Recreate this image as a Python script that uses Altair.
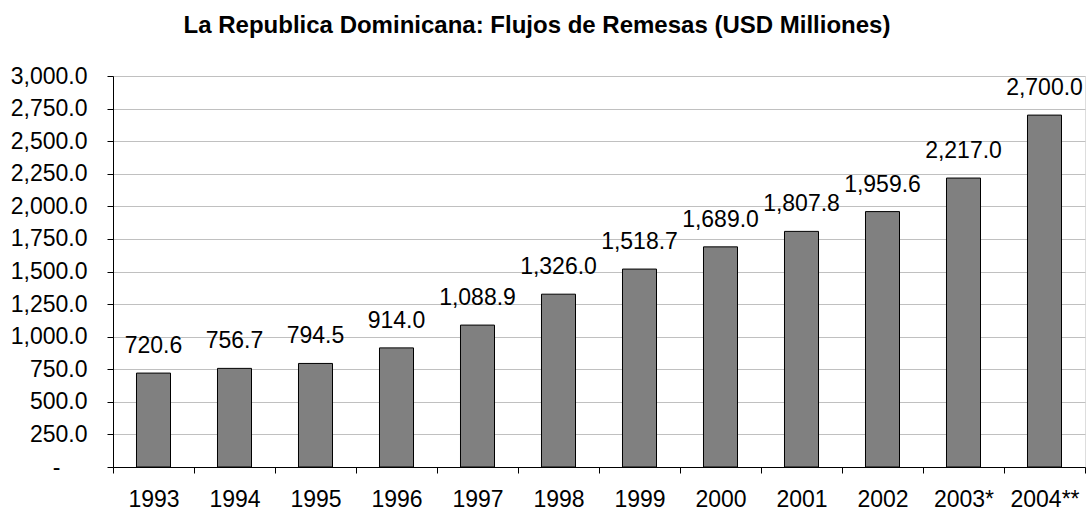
import altair as alt
import pandas as pd

# Remittance inflows to the Dominican Republic, USD millions
years = ["1993", "1994", "1995", "1996", "1997", "1998", "1999",
         "2000", "2001", "2002", "2003*", "2004**"]
remesas = [720.6, 756.7, 794.5, 914.0, 1088.9, 1326.0, 1518.7,
           1689.0, 1807.8, 1959.6, 2217.0, 2700.0]
y_ticks = [0, 250, 500, 750, 1000, 1250, 1500, 1750, 2000, 2250, 2500, 2750, 3000]

df = pd.DataFrame({"year": years, "value": remesas})

FONT = "Liberation Sans"

x_enc = alt.X(
    "year:N",
    sort=years,
    scale=alt.Scale(paddingInner=0, paddingOuter=0),
    axis=alt.Axis(
        title=None,
        labelAngle=0,
        tickBand="extent",
        grid=False,
        domainColor="black",
        tickColor="black",
        tickSize=6,
        labelPadding=15,
        labelFont=FONT,
        labelFontSize=23,
        labelColor="black",
    ),
)

y_enc = alt.Y(
    "value:Q",
    scale=alt.Scale(domain=[0, 3000], nice=False),
    axis=alt.Axis(
        title=None,
        values=y_ticks,
        labelOverlap=False,
        labelExpr="datum.value == 0 ? '-' : format(datum.value, ',.1f')",
        grid=True,
        gridColor="#c0c0c0",
        domainColor="black",
        tickColor="black",
        tickSize=6,
        labelPadding={"condition": {"test": "datum.value == 0", "value": 47}, "value": 20},
        labelFont=FONT,
        labelFontSize=23,
        labelColor="black",
    ),
)

base = alt.Chart(df).encode(x=x_enc, y=y_enc)

bars = base.mark_bar(
    width=alt.RelativeBandSize(0.42),
    color="#808080",
    stroke="black",
    strokeWidth=1,
)

labels = base.mark_text(
    baseline="alphabetic",
    align="center",
    dy=-20,
    font=FONT,
    fontSize=23,
    color="black",
).encode(text=alt.Text("value:Q", format=",.1f"))

chart = (
    alt.layer(bars, labels)
    .properties(
        width=972,
        height=391,
        autosize=alt.AutoSizeParams(type="none"),
        padding={"left": 113, "top": 76, "right": 2, "bottom": 44},
        title=alt.TitleParams(
            "La Republica Dominicana: Flujos de Remesas (USD Milliones)",
            font=FONT,
            fontSize=24,
            fontWeight="bold",
            color="black",
            anchor="middle",
            frame="group",
            dx=-62,
            offset=8,
            baseline="alphabetic",
        ),
    )
    .configure_view(stroke="#808080", strokeWidth=1)
    .configure(background="white")
)

chart.save("out.html", embed_options={"renderer": "svg", "actions": False})
